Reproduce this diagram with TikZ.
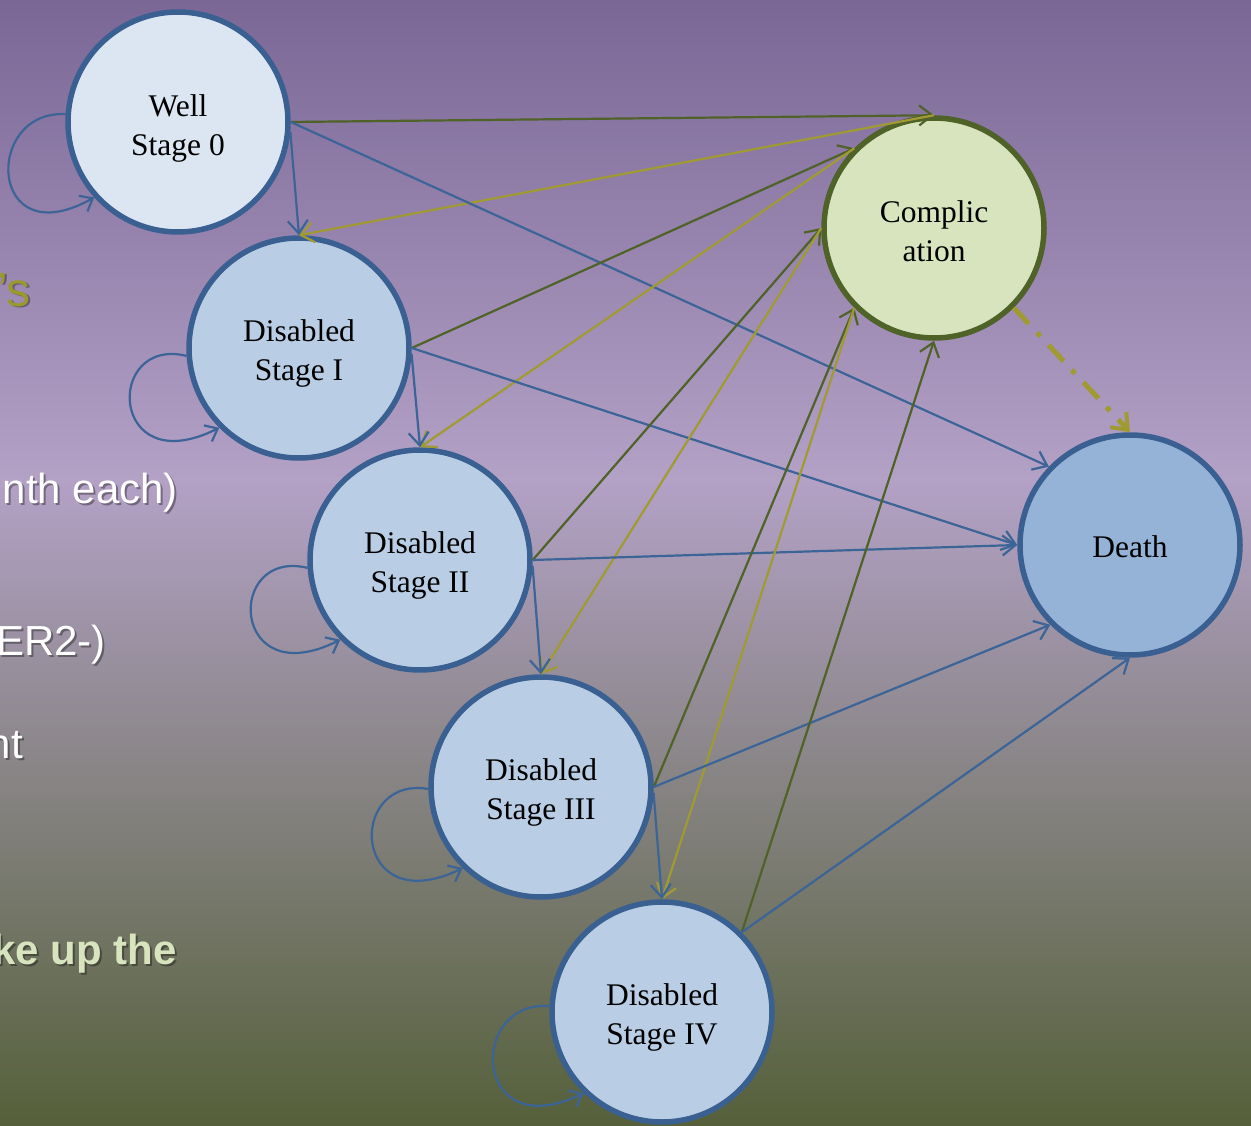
\documentclass[tikz,border=0pt]{standalone}
\usepackage{fontspec}
\setmainfont{Liberation Serif}
\newfontfamily\arialf{Liberation Sans}
\usetikzlibrary{arrows.meta,calc}
\definecolor{bgA}{HTML}{7A6796}
\definecolor{bgB}{HTML}{B3A1C6}
\definecolor{bgC}{HTML}{8A8688}
\definecolor{bgD}{HTML}{55603A}
\definecolor{bordblue}{HTML}{3A6091}
\definecolor{lineblue}{HTML}{3C6496}
\definecolor{dkgreen}{HTML}{4F6228}
\definecolor{yolive}{HTML}{A09A32}
\definecolor{wellfill}{HTML}{DCE6F2}
\definecolor{disfill}{HTML}{B9CDE5}
\definecolor{deathfill}{HTML}{95B3D7}
\definecolor{compfill}{HTML}{D7E4BD}
\definecolor{txtolive}{HTML}{9A9A2C}
\definecolor{txtgreen}{HTML}{D7E4BD}
\begin{document}
\begin{tikzpicture}[x=1pt,y=-1pt,
  state/.style={circle, minimum size=220pt, line width=5.5pt, inner sep=0pt, draw=bordblue},
  lbl/.style={align=center, font=\fontsize{31.5}{39}\selectfont, text=black, inner sep=0pt},
  arr/.style={line width=2.2pt, -{Straight Barb[length=13pt,width=20pt]}},
  bl/.style={arr, draw=lineblue},
  gr/.style={arr, draw=dkgreen},
  yl/.style={arr, draw=yolive},
  lft/.style={anchor=base east, font=\arialf\fontsize{42}{50}\selectfont, inner sep=0pt},
  shd/.style={lft, text=black, opacity=0.35},
  loopline/.style={line width=2.2pt, draw=lineblue, -{Straight Barb[length=11pt,width=18pt]}}]
\useasboundingbox (0,0) rectangle (1251,1126);
\shade[top color=bgA, bottom color=bgB] (0,0) rectangle (1251,481);
\shade[top color=bgB, bottom color=bgC] (0,480) rectangle (1251,761);
\shade[top color=bgC, bottom color=bgD] (0,760) rectangle (1251,1126);

% partial left texts
\node[shd, font=\arialf\fontsize{48}{56}\selectfont] (s1) at (33,308) {’s};
\node[lft, text=txtolive, font=\arialf\fontsize{48}{56}\selectfont] (t1) at (31,306) {’s};
\node[shd] (s2) at (180,505) {nth each)};
\node[lft, text=white] (t2) at (178,503) {nth each)};
\node[shd] (s3) at (108,657) {ER2-)};
\node[lft, text=white] (t3) at (106,655) {ER2-)};
\node[shd] (s4) at (25,760) {nt};
\node[lft, text=white] (t4) at (23,758) {nt};
\node[shd, font=\arialf\bfseries\fontsize{42}{50}\selectfont] (s5) at (179,966) {ke up the};
\node[lft, text=txtgreen, font=\arialf\bfseries\fontsize{42}{50}\selectfont] (t5) at (177,964) {ke up the};

% states
\node[state, fill=wellfill] (w) at (178,122) {};
\node[state, fill=disfill] (d1) at (299,348) {};
\node[state, fill=disfill] (d2) at (420,560) {};
\node[state, fill=disfill] (d3) at (541,787) {};
\node[state, fill=disfill] (d4) at (662,1012) {};
\node[state, fill=compfill, draw=dkgreen] (c) at (934,228) {};
\node[state, fill=deathfill] (x) at (1130,545) {};

\node[lbl] (wl) at ($(w)+(0,6)$) {Well\\Stage 0};
\node[lbl] (d1l) at ($(d1)+(0,5)$) {Disabled\\Stage I};
\node[lbl] (d2l) at ($(d2)+(0,5)$) {Disabled\\Stage II};
\node[lbl] (d3l) at ($(d3)+(0,5)$) {Disabled\\Stage III};
\node[lbl] (d4l) at ($(d4)+(0,5)$) {Disabled\\Stage IV};
\node[lbl] (cl) at ($(c)+(0,3)$) {Complic\\ation};
\node[lbl] (xl) at ($(x)+(0,2)$) {Death};

% self loops
\foreach \n/\a/\b in {w/176/222, d1/184/225, d2/184/225, d3/181/226, d4/177/226}{
  \draw[loopline] (\n.\a) .. controls ($(\n)+(-195,-12)$) and ($(\n)+(-190,135)$) .. (\n.\b);
}

% transitions
\draw[gr] (w.east) -- (c.north);
\draw[yl] (c.north) -- (d1.north);
\draw[bl] (w.-5) -- (d1.north);
\draw[bl] (w.east) -- (x.136);

\draw[gr] (d1.east) -- (c.135);
\draw[yl] (c.135) -- (d2.north);
\draw[bl] (d1.-3) -- (d2.north);
\draw[bl] (d1.east) -- (x.west);

\draw[gr] (d2.east) -- (c.west);
\draw[yl] (c.west) -- (d3.north);
\draw[bl] (d2.-3) -- (d3.north);
\draw[bl] (d2.east) -- (x.west);

\draw[gr] (d3.east) -- (c.225);
\draw[yl] (c.225) -- (d4.north);
\draw[bl] (d3.-3) -- (d4.north);
\draw[bl] (d3.east) -- (x.225);

\draw[gr] (d4.45) -- (c.south);
\draw[bl] (d4.45) -- (x.south);

\draw[draw=yolive, line width=5pt, dash pattern=on 22pt off 12pt on 5pt off 12pt,
  -{Straight Barb[length=14pt,width=22pt,line width=4pt]}] (c.-45) -- (x.north);
\end{tikzpicture}
\end{document}
